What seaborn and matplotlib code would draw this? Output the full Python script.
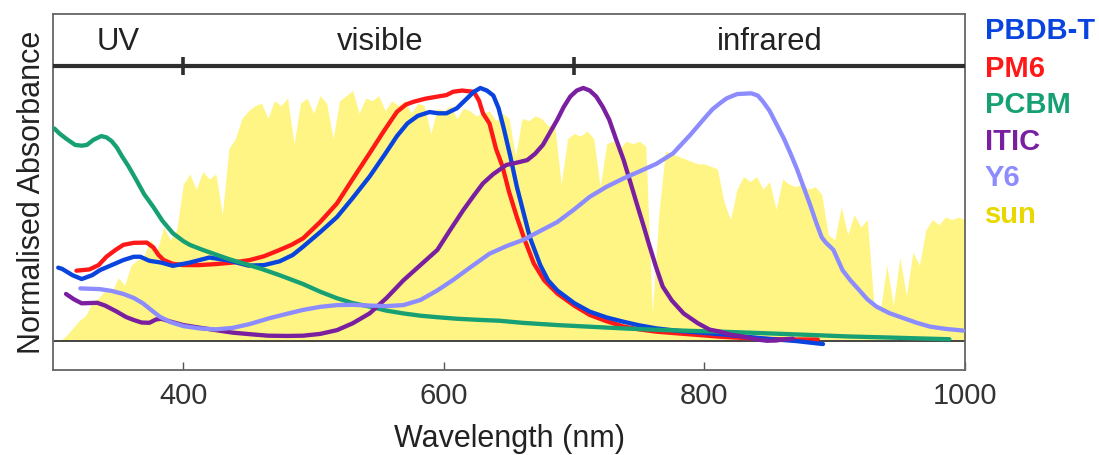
import matplotlib
matplotlib.use("Agg")
import matplotlib.pyplot as plt
import pandas as pd
import seaborn as sns

# ---------------- data ----------------
sun_nm = list(range(300, 1001, 5))
sun_val = [0.00, 0.00, 0.02, 0.05, 0.08, 0.10, 0.15, 0.17, 0.20, 0.19,
           0.25, 0.22, 0.30, 0.32, 0.34, 0.40, 0.36, 0.45, 0.40, 0.44,
           0.62, 0.66, 0.60, 0.67, 0.64, 0.66, 0.50, 0.76, 0.80, 0.88,
           0.91, 0.93, 0.94, 0.88, 0.95, 0.93, 0.96, 0.78, 0.94, 0.96,
           0.90, 0.97, 0.94, 0.80, 0.95, 0.97, 0.99, 0.90, 0.96, 0.95,
           0.97, 0.91, 0.95, 0.93, 0.95, 0.90, 0.94, 0.93, 0.82, 0.92,
           0.91, 0.93, 0.88, 0.92, 0.91, 0.89, 0.90, 0.91, 0.87, 0.90,
           0.88, 0.73, 0.88, 0.87, 0.89, 0.88, 0.85, 0.86, 0.62, 0.80,
           0.82, 0.81, 0.83, 0.80, 0.61, 0.78, 0.79, 0.76, 0.79, 0.78,
           0.79, 0.77, 0.11, 0.50, 0.75, 0.74, 0.73, 0.72, 0.71, 0.70,
           0.70, 0.69, 0.68, 0.55, 0.48, 0.60, 0.65, 0.63, 0.65, 0.60,
           0.63, 0.52, 0.64, 0.62, 0.61, 0.62, 0.60, 0.61, 0.58, 0.42,
           0.40, 0.53, 0.42, 0.50, 0.45, 0.48, 0.15, 0.12, 0.30, 0.14,
           0.33, 0.18, 0.35, 0.30, 0.44, 0.48, 0.46, 0.49, 0.48, 0.49,
           0.48]

pbdbt_nm = [304, 307, 315, 322, 330, 336, 345, 354, 362, 367, 374, 383, 392,
            405, 420, 435, 450, 462, 474, 484, 492, 505, 518, 530, 543, 555,
            564, 572, 580, 589, 596, 602, 610, 618, 623, 628, 633, 638, 642,
            646, 651, 656, 661, 666, 674, 680, 687, 700, 712, 725, 738, 750,
            763, 780, 800, 812, 830, 850, 870, 891]
pbdbt_val = [0.29, 0.285, 0.26, 0.245, 0.26, 0.28, 0.30, 0.32, 0.333, 0.333,
             0.317, 0.31, 0.297, 0.31, 0.33, 0.318, 0.298, 0.30, 0.315, 0.34,
             0.373, 0.43, 0.49, 0.565, 0.65, 0.74, 0.81, 0.86, 0.89, 0.905,
             0.90, 0.90, 0.92, 0.96, 0.985, 1.0, 0.99, 0.97, 0.92, 0.84,
             0.73, 0.61, 0.51, 0.41, 0.30, 0.24, 0.20, 0.15, 0.116, 0.093,
             0.076, 0.062, 0.05, 0.04, 0.032, 0.027, 0.018, 0.008, 0.0, -0.012]

pm6_nm = [318, 328, 335, 341, 348, 354, 362, 372, 377, 381, 385, 392, 400,
          412, 425, 438, 451, 462, 474, 483, 492, 505, 518, 530, 543, 554,
          564, 571, 577, 586, 595, 602, 607, 614, 619, 623, 627, 630, 635,
          640, 645, 650, 656, 662, 669, 677, 687, 700, 712, 725, 738, 750,
          763, 780, 800, 812, 830, 850, 870, 887]
pm6_val = [0.278, 0.283, 0.30, 0.333, 0.36, 0.38, 0.388, 0.389, 0.37, 0.34,
           0.32, 0.305, 0.30, 0.30, 0.304, 0.31, 0.32, 0.335, 0.36, 0.38,
           0.406, 0.47, 0.544, 0.64, 0.742, 0.83, 0.906, 0.935, 0.946, 0.958,
           0.966, 0.972, 0.985, 0.99, 0.987, 0.985, 0.95, 0.90, 0.86, 0.76,
           0.69, 0.59, 0.49, 0.40, 0.307, 0.24, 0.188, 0.14, 0.103, 0.078,
           0.057, 0.046, 0.037, 0.03, 0.022, 0.017, 0.012, 0.008, 0.006, 0.006]

pcbm_nm = [301, 305, 310, 317, 322, 326, 331, 337, 341, 345, 349, 353, 358,
           364, 370, 377, 384, 392, 400, 405, 415, 426, 436, 446, 460, 474,
           492, 505, 518, 530, 543, 556, 569, 582, 595, 610, 625, 643, 660,
           687, 710, 737, 760, 790, 812, 840, 860, 881, 910, 940, 960, 988]
pcbm_val = [0.84, 0.82, 0.80, 0.775, 0.772, 0.775, 0.795, 0.81, 0.805, 0.79,
            0.765, 0.73, 0.69, 0.636, 0.58, 0.53, 0.475, 0.426, 0.395, 0.38,
            0.36, 0.34, 0.322, 0.307, 0.285, 0.26, 0.225, 0.195, 0.169, 0.15,
            0.136, 0.12, 0.109, 0.10, 0.094, 0.088, 0.084, 0.08, 0.072, 0.063,
            0.057, 0.05, 0.045, 0.04, 0.037, 0.032, 0.028, 0.024, 0.018, 0.014,
            0.011, 0.007]

itic_nm = [310, 316, 322, 328, 334, 340, 349, 356, 362, 368, 374, 379, 383,
           390, 400, 412, 425, 438, 451, 465, 480, 492, 505, 518, 530, 543,
           556, 569, 582, 595, 605, 615, 623, 630, 638, 648, 656, 664, 670,
           676, 681, 687, 692, 697, 702, 707, 712, 717, 722, 727, 732, 738,
           743, 748, 753, 758, 763, 768, 775, 784, 795, 804, 812, 820, 830,
           840, 848, 855, 862, 868]
itic_val = [0.186, 0.165, 0.149, 0.15, 0.151, 0.14, 0.116, 0.095, 0.083,
            0.073, 0.072, 0.085, 0.088, 0.077, 0.063, 0.053, 0.043, 0.033,
            0.027, 0.021, 0.02, 0.021, 0.028, 0.043, 0.07, 0.109, 0.17, 0.24,
            0.30, 0.36, 0.44, 0.518, 0.575, 0.623, 0.66, 0.696, 0.705, 0.715,
            0.74, 0.775, 0.82, 0.874, 0.925, 0.966, 0.99, 1.0, 0.99, 0.966,
            0.925, 0.874, 0.80, 0.715, 0.63, 0.544, 0.46, 0.373, 0.29, 0.215,
            0.16, 0.109, 0.07, 0.045, 0.037, 0.025, 0.017, 0.006, 0.001,
            0.002, 0.007, 0.009]

y6_nm = [321, 336, 345, 354, 362, 369, 376, 382, 390, 400, 412, 425, 438,
         451, 466, 480, 492, 505, 518, 530, 543, 556, 569, 582, 595, 607,
         620, 635, 648, 661, 674, 687, 700, 712, 725, 738, 750, 763, 776,
         789, 800, 806, 812, 817, 825, 836, 841, 845, 850, 855, 861, 866,
         871, 876, 881, 886, 890, 893, 899, 906, 912, 919, 925, 932, 942,
         953, 963, 973, 985, 999]
y6_val = [0.208, 0.205, 0.198, 0.186, 0.17, 0.149, 0.12, 0.096, 0.075, 0.059,
          0.05, 0.046, 0.052, 0.067, 0.09, 0.108, 0.123, 0.135, 0.142, 0.143,
          0.14, 0.138, 0.142, 0.162, 0.20, 0.241, 0.29, 0.345, 0.375, 0.40,
          0.435, 0.47, 0.52, 0.57, 0.61, 0.643, 0.67, 0.70, 0.742, 0.814,
          0.88, 0.915, 0.94, 0.959, 0.976, 0.979, 0.97, 0.946, 0.91, 0.86,
          0.80, 0.742, 0.68, 0.61, 0.54, 0.465, 0.41, 0.39, 0.36, 0.28, 0.24,
          0.20, 0.165, 0.136, 0.11, 0.09, 0.072, 0.057, 0.048, 0.041]

legend_names = ["PBDB-T", "PM6", "PCBM", "ITIC", "Y6", "sun"]
legend_colors = ["#0a44de", "#ff1818", "#16a074", "#7a1fa0", "#8c8cff", "#e8d800"]
band_labels = ["UV", "visible", "infrared"]
band_centers = [350, 551, 850]
band_edges = [400, 700]

# ---------------- plot ----------------
sns.set_style("white")
plt.rcParams['font.family'] = ['Liberation Sans', 'DejaVu Sans']

W, H = 1099, 455
fig = plt.figure(figsize=(W / 100, H / 100), dpi=100)
ax = fig.add_axes([53 / W, 85 / H, 912 / W, 356 / H])

sun_df = pd.DataFrame({"nm": sun_nm, "val": sun_val})
ax.fill_between(sun_df["nm"], 0, sun_df["val"], color="#fff584", linewidth=0, zorder=1)
ax.axhline(0, color="#444444", lw=1.4, zorder=2)

series = [
    (pm6_nm, pm6_val, legend_colors[1]),
    (pbdbt_nm, pbdbt_val, legend_colors[0]),
    (pcbm_nm, pcbm_val, legend_colors[2]),
    (itic_nm, itic_val, legend_colors[3]),
    (y6_nm, y6_val, legend_colors[4]),
]
for xs, ys, c in series:
    df = pd.DataFrame({"nm": xs, "val": ys})
    sns.lineplot(data=df, x="nm", y="val", color=c, linewidth=3.1, ax=ax,
                 estimator=None, sort=False, zorder=3)

ax.set_xlim(300, 1000)
ax.set_ylim(-0.1146, 1.2925)

# band separator
ax.plot([300, 1000], [1.087, 1.087], color="#2e2e2e", lw=3, solid_capstyle="butt",
        zorder=4, clip_on=False)
for e in band_edges:
    ax.plot([e, e], [1.05, 1.122], color="#2e2e2e", lw=2.6, solid_capstyle="butt", zorder=4)
for lab, c in zip(band_labels, band_centers):
    ax.text(c, 1.18, lab, ha="center", va="center", fontsize=22.3, color="#222222")

ax.set_xticks([400, 600, 800, 1000])
ax.set_yticks([])
ax.tick_params(axis="x", bottom=True, direction="in", length=6, width=1,
               color="#555555", labelsize=21, labelcolor="#333333", pad=9)
ax.set_xlabel("Wavelength (nm)", fontsize=22, color="#222222", labelpad=10)
ax.set_ylabel("Normalised Absorbance", fontsize=22, color="#222222", labelpad=4)
for s in ax.spines.values():
    s.set_color("#666666")
    s.set_linewidth(1.3)

baselines = [39, 77, 113, 150, 186, 223]
for name, c, b in zip(legend_names, legend_colors, baselines):
    fig.text(985 / W, 1 - b / H, name, color=c, fontsize=21, fontweight="bold",
             ha="left", va="baseline")

fig.savefig("out.png", dpi=100)
